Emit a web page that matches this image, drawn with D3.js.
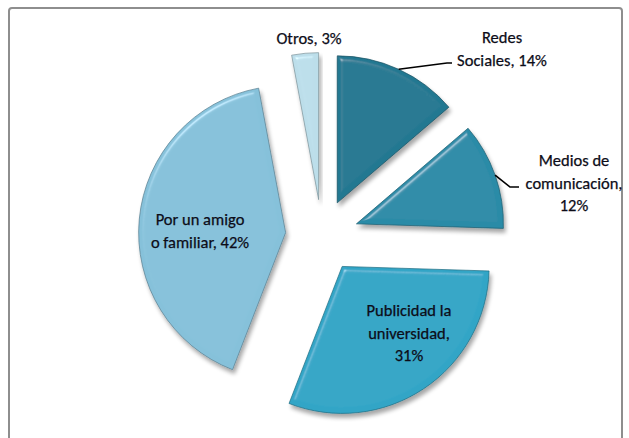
<!DOCTYPE html>
<html>
<head>
<meta charset="utf-8">
<script src="https://cdn.jsdelivr.net/npm/d3@7"></script>
<style>
  html, body { margin: 0; padding: 0; background: #fff; }
  svg { display: block; }
  text { font-family: Carlito, Calibri, Lato, "Open Sans", sans-serif; fill: #0c0c18; stroke: #0c0c18; stroke-width: 0.25px; }
</style>
</head>
<body>
<svg id="chart" width="629" height="438"></svg>
<script>
// ---- data ----
const categories = ["Redes Sociales", "Medios de comunicación", "Publicidad la universidad", "Por un amigo o familiar", "Otros"];
const values = [14, 12, 31, 42, 3];
const labelLines = [
  ["Redes", "Sociales, 14%"],
  ["Medios de", "comunicación,", "12%"],
  ["Publicidad la", "universidad,", "31%"],
  ["Por un amigo", "o familiar, 42%"],
  ["Otros, 3%"]
];
const colors = ["#237891", "#2a8ba7", "#31a5c6", "#86c1da", "#bcdeea"];

// ---- layout ----
const W = 629, H = 438;
const cx = 322, cy = 236, R = 147, explode = 36.5;
const labelPos = [
  { x: 502, y: 37, outside: true, elbow: [447, 63], end: [452, 63] },
  { x: 574, y: 160, outside: true, elbow: [510, 187], end: [519, 187] },
  { x: 409, y: 310 },
  { x: 200, y: 219 },
  { x: 309, y: 38 }
];
const lineH = 22.5;

const svg = d3.select("#chart");
const defs = svg.append("defs");

const f = defs.append("filter").attr("id", "bevel")
  .attr("x", "-10%").attr("y", "-10%").attr("width", "125%").attr("height", "125%");
f.append("feGaussianBlur").attr("in", "SourceAlpha").attr("stdDeviation", 2.5).attr("result", "blur");
const spec = f.append("feSpecularLighting").attr("in", "blur").attr("surfaceScale", 4)
  .attr("specularConstant", 0.55).attr("specularExponent", 45).attr("lighting-color", "#ffffff")
  .attr("result", "spec");
spec.append("feDistantLight").attr("azimuth", 235).attr("elevation", 45);
f.append("feComposite").attr("in", "spec").attr("in2", "SourceAlpha").attr("operator", "in").attr("result", "specIn");
f.append("feComposite").attr("in", "SourceGraphic").attr("in2", "specIn").attr("operator", "arithmetic")
  .attr("k1", 0).attr("k2", 1).attr("k3", 0.55).attr("k4", 0).attr("result", "lit");
f.append("feGaussianBlur").attr("in", "SourceAlpha").attr("stdDeviation", 2.2).attr("result", "sblur");
f.append("feOffset").attr("in", "sblur").attr("dx", 2).attr("dy", 4).attr("result", "soff");
f.append("feComponentTransfer").attr("in", "soff").attr("result", "sh")
  .append("feFuncA").attr("type", "linear").attr("slope", 0.35);
const m = f.append("feMerge");
m.append("feMergeNode").attr("in", "sh");
m.append("feMergeNode").attr("in", "lit");

// frame
svg.append("rect").attr("x", 9).attr("y", 8).attr("width", 613).attr("height", 460)
  .attr("rx", 3).attr("fill", "#fff").attr("stroke", "#8e8e8e").attr("stroke-width", 2);

const pie = d3.pie().sort(null).value(d => d);
const arcs = pie(values);
const arc = d3.arc().innerRadius(0).outerRadius(R);
const rimArc = d3.arc().innerRadius(R).outerRadius(R);

const g = svg.append("g").attr("transform", `translate(${cx},${cy})`);

arcs.forEach((a, i) => {
  const mid = (a.startAngle + a.endAngle) / 2;
  const ox = Math.sin(mid) * explode, oy = -Math.cos(mid) * explode;
  const sg = g.append("g").attr("transform", `translate(${ox},${oy})`);
  sg.append("path").attr("d", arc(a)).attr("fill", colors[i])
    .attr("stroke", d3.color(colors[i]).darker(1.2)).attr("stroke-width", 1)
    .attr("stroke-opacity", 0.7)
    .attr("filter", "url(#bevel)");
});

// labels + leader lines
arcs.forEach((a, i) => {
  const p = labelPos[i];
  if (p.outside) {
    const mid = (a.startAngle + a.endAngle) / 2;
    const ox = Math.sin(mid) * explode, oy = -Math.cos(mid) * explode;
    const c = rimArc.centroid(a);
    const sx = cx + ox + c[0], sy = cy + oy + c[1];
    svg.append("polyline")
      .attr("points", [[sx, sy], p.elbow, p.end].map(q => q.join(",")).join(" "))
      .attr("fill", "none").attr("stroke", "#000").attr("stroke-width", 1.6);
  }
  const t = svg.append("text").attr("text-anchor", "middle").attr("font-size", 16.5);
  labelLines[i].forEach((ln, j) => {
    t.append("tspan").attr("x", p.x).attr("y", p.y + j * lineH)
      .attr("dominant-baseline", "central").text(ln);
  });
});
</script>
</body>
</html>
